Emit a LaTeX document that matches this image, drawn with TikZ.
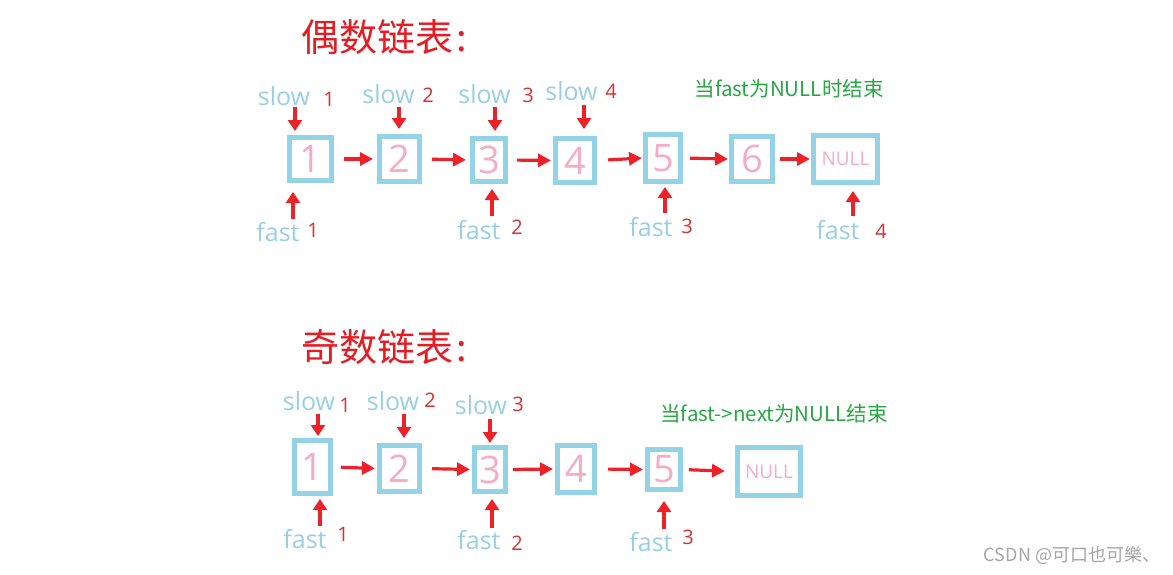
\documentclass[tikz,border=0pt]{standalone}
\usepackage{fontspec}
\setmainfont{Open Sans}
\newfontfamily\cjk{Noto Sans CJK SC}
\usetikzlibrary{arrows.meta}
\definecolor{boxblue}{RGB}{148,210,229}
\definecolor{numpink}{RGB}{245,172,198}
\definecolor{lblue}{RGB}{152,207,226}
\definecolor{nred}{RGB}{214,48,48}
\definecolor{ared}{RGB}{236,34,40}
\definecolor{tgreen}{RGB}{38,168,66}
\definecolor{tred}{RGB}{228,28,36}
\definecolor{wgray}{RGB}{165,165,165}
\begin{document}
\begin{tikzpicture}[x=1pt,y=-1pt,
 box/.style={draw=boxblue,line width=5pt,inner sep=0pt,text=numpink,font=\fontsize{38}{38}\selectfont},
 nullbox/.style={box,font=\fontsize{19}{19}\selectfont},
 lbl/.style={text=lblue,inner sep=0pt,font=\fontsize{25}{25}\selectfont,anchor=base},
 num/.style={text=nred,inner sep=0pt,font=\fontsize{20}{20}\selectfont,anchor=base},
 harrow/.style={draw=ared,line width=3.2pt,-{Triangle[length=13pt,width=13pt]}},
 varrow/.style={draw=ared,line width=4pt,-{Triangle[length=11pt,width=14pt]}},
 ttl/.style={text=tred,inner sep=0pt,anchor=west,font=\cjk\fontsize{38}{38}\selectfont},
 note/.style={text=tgreen,inner sep=0pt,font=\cjk\fontsize{20.5}{20.5}\selectfont},
]
\useasboundingbox (0,0) rectangle (1173,574);

% ---------- even list ----------
\node[ttl] (title1) at (301,37) {偶数链表\hspace{3pt}:};
\node[note] (note1) at (789,89) {当fast为NULL时结束};

\node[box,minimum width=42pt,minimum height=43pt] (t1) at (310.5,159) {1};
\node[box,minimum width=40pt,minimum height=45pt] (t2) at (399.5,159) {2};
\node[box,minimum width=33pt,minimum height=43pt] (t3) at (489,160) {3};
\node[box,minimum width=39pt,minimum height=44pt] (t4) at (575,160.5) {4};
\node[box,minimum width=35pt,minimum height=47pt] (t5) at (663,158) {5};
\node[box,minimum width=41pt,minimum height=45pt] (t6) at (752,159) {6};
\node[nullbox,minimum width=64pt,minimum height=47pt] (tn) at (845.5,159) {NULL};

\draw[harrow,shorten <=10pt,shorten >=4pt] (t1.east) -- (t2.west);
\draw[harrow,shorten <=10pt,shorten >=4pt] (t2.east) -- (t3.west);
\draw[harrow,shorten <=9pt,shorten >=2pt] (t3.east) -- (t4.west);
\draw[harrow,shorten <=11pt,shorten >=1pt] (t4.east) -- (t5.west);
\draw[harrow,shorten <=7pt,shorten >=1pt] (t5.east) -- (t6.west);
\draw[harrow,shorten <=5pt,shorten >=1pt] (t6.east) -- (tn.west);

\node[lbl] (ts1) at (284,105) {slow};
\node[num] (tsn1) at (329,106) {1};
\node[lbl] (ts2) at (388.5,103) {slow};
\node[num] (tsn2) at (428,102) {2};
\node[lbl] (ts3) at (484.5,103) {slow};
\node[num] (tsn3) at (528,102) {3};
\node[lbl] (ts4) at (571.5,100) {slow};
\node[num] (tsn4) at (611,98) {4};

\coordinate (tsa1) at (295,107);
\coordinate (tsa2) at (399,107);
\coordinate (tsa3) at (495,107);
\coordinate (tsa4) at (584,105);
\draw[varrow,shorten >=4pt] (tsa1) -- (tsa1 |- t1.north);
\draw[varrow,shorten >=5pt] (tsa2) -- (tsa2 |- t2.north);
\draw[varrow,shorten >=5pt] (tsa3) -- (tsa3 |- t3.north);
\draw[varrow,shorten >=7pt] (tsa4) -- (tsa4 |- t4.north);

\node[lbl] (tf1) at (278,241) {fast};
\node[num] (tfn1) at (313,237) {1};
\node[lbl] (tf2) at (479,239) {fast};
\node[num] (tfn2) at (517,234) {2};
\node[lbl] (tf3) at (651,236) {fast};
\node[num] (tfn3) at (687,233) {3};
\node[lbl] (tf4) at (838,239) {fast};
\node[num] (tfn4) at (881,238) {4};

\coordinate (tfa1) at (293,219);
\coordinate (tfa2) at (492,216);
\coordinate (tfa3) at (665,213);
\coordinate (tfa4) at (853,216);
\draw[varrow,shorten >=9pt] (tfa1) -- (tfa1 |- t1.south);
\draw[varrow,shorten >=5pt] (tfa2) -- (tfa2 |- t3.south);
\draw[varrow,shorten >=3pt] (tfa3) -- (tfa3 |- t5.south);
\draw[varrow,shorten >=6pt] (tfa4) -- (tfa4 |- tn.south);

% ---------- odd list ----------
\node[ttl] (title2) at (301,347) {奇数链表\hspace{3pt}:};
\node[note] (note2) at (774,414) {当fast->next为NULL结束};

\node[box,minimum width=36pt,minimum height=53pt] (b1) at (312.5,467) {1};
\node[box,minimum width=40pt,minimum height=46pt] (b2) at (399.5,468.5) {2};
\node[box,minimum width=31pt,minimum height=44pt] (b3) at (490,469.5) {3};
\node[box,minimum width=37pt,minimum height=47pt] (b4) at (576,469) {4};
\node[box,minimum width=33pt,minimum height=40pt] (b5) at (664,469.5) {5};
\node[nullbox,minimum width=63pt,minimum height=48pt] (bn) at (769,471.5) {NULL};

\draw[harrow,shorten <=8pt,shorten >=2pt] (b1.east) -- (b2.west);
\draw[harrow,shorten <=10pt,shorten >=2pt] (b2.east) -- (b3.west);
\draw[harrow,shorten <=5pt,shorten >=2pt] (b3.east) -- (b4.west);
\draw[harrow,shorten <=11pt,shorten >=2pt] (b4.east) -- (b5.west);
\draw[harrow,shorten <=6pt,shorten >=10pt] (b5.east) -- (bn.west);

\node[lbl] (bs1) at (309,410) {slow};
\node[num] (bsn1) at (345,412) {1};
\node[lbl] (bs2) at (393,410) {slow};
\node[num] (bsn2) at (430,407) {2};
\node[lbl] (bs3) at (481,414) {slow};
\node[num] (bsn3) at (518,411) {3};

\coordinate (bsa1) at (318,414);
\coordinate (bsa2) at (404,414);
\coordinate (bsa3) at (490,419);
\draw[varrow,shorten >=2pt] (bsa1) -- (bsa1 |- b1.north);
\draw[varrow,shorten >=5pt] (bsa2) -- (bsa2 |- b2.north);
\draw[varrow,shorten >=2pt] (bsa3) -- (bsa3 |- b3.north);

\node[lbl] (bf1) at (305,548) {fast};
\node[num] (bfn1) at (343,541) {1};
\node[lbl] (bf2) at (479,549) {fast};
\node[num] (bfn2) at (517,550) {2};
\node[lbl] (bf3) at (651,551) {fast};
\node[num] (bfn3) at (688,544) {3};

\coordinate (bfa1) at (320,526);
\coordinate (bfa2) at (492,528);
\coordinate (bfa3) at (664,529);
\draw[varrow,shorten >=3pt] (bfa1) -- (bfa1 |- b1.south);
\draw[varrow,shorten >=5pt] (bfa2) -- (bfa2 |- b3.south);
\draw[varrow,shorten >=9pt] (bfa3) -- (bfa3 |- b5.south);

\node[text=wgray,inner sep=0pt,font=\cjk\fontsize{18}{18}\selectfont] (wm) at (1072,555) {CSDN @可口也可樂、};
\end{tikzpicture}
\end{document}
